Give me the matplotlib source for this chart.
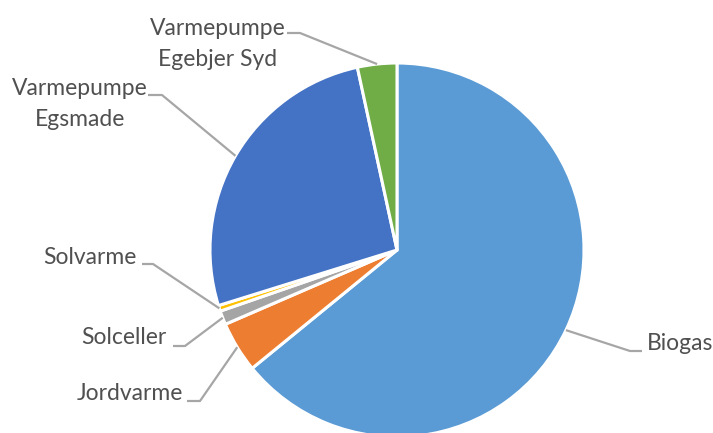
import numpy as np
import matplotlib.pyplot as plt

# Energy sources share (%), clockwise from 12 o'clock
labels = ['Biogas', 'Jordvarme', 'Solceller', 'Solvarme',
          'Varmepumpe\nEgsmade', 'Varmepumpe\nEgebjer Syd']
shares = [64.1, 4.4, 1.2, 0.5, 26.4, 3.4]
colors = ['#5B9BD5', '#ED7D31', '#A5A5A5', '#FFC000', '#4472C4', '#70AD47']

W, H = 713, 433

# label layout (image pixel coords): text anchor, alignment, elbow x
label_layout = {
    'Biogas': dict(xy=(647, 343), ha='left', line_start=642, elbow=630, ly=351),
    'Jordvarme': dict(xy=(183, 393), ha='right', line_start=187, elbow=200, ly=401),
    'Solceller': dict(xy=(166, 338), ha='right', line_start=173, elbow=185, ly=346),
    'Solvarme': dict(xy=(137, 257), ha='right', line_start=142, elbow=153, ly=264),
    'Varmepumpe\nEgsmade': dict(xy=(80, 104), ha='center', line_start=148, elbow=162, ly=95),
    'Varmepumpe\nEgebjer Syd': dict(xy=(218, 44), ha='center', line_start=287, elbow=300, ly=33),
}

plt.rcParams['font.family'] = ['Lato', 'DejaVu Sans']

fig = plt.figure(figsize=(W / 100, H / 100), dpi=100)
ax = fig.add_axes([0, 0, 1, 1])

cx, cy, r = 397, H - 250, 187
wedges, _ = ax.pie(shares, colors=colors, startangle=90, counterclock=False,
                   center=(cx, cy), radius=r,
                   wedgeprops=dict(edgecolor='white', linewidth=2.2))

for w, lab in zip(wedges, labels):
    lay = label_layout[lab]
    mid = np.deg2rad((w.theta1 + w.theta2) / 2)
    ex, ey = cx + r * np.cos(mid), cy + r * np.sin(mid)
    ly = H - lay['ly']
    ax.plot([lay['line_start'], lay['elbow'], ex], [ly, ly, ey],
            color='#A6A6A6', linewidth=1.6, solid_capstyle='butt')
    tx, ty = lay['xy']
    ax.text(tx, H - ty, lab, ha=lay['ha'], va='center', multialignment='center',
            fontsize=16.5, color='#505050', linespacing=1.55)

ax.set_xlim(0, W)
ax.set_ylim(0, H)
ax.set_aspect('equal')
ax.axis('off')

fig.savefig('out.png', dpi=100)
